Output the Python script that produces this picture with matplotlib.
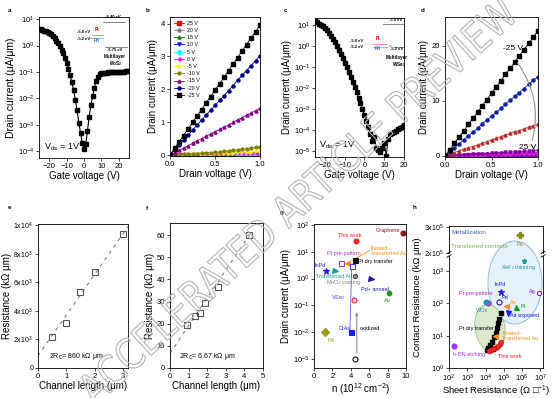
import matplotlib
matplotlib.use("Agg")
import matplotlib.pyplot as plt
from matplotlib.patches import Ellipse, PathPatch
from matplotlib.lines import Line2D
from matplotlib.textpath import TextPath
from matplotlib.font_manager import FontProperties
from matplotlib.transforms import Affine2D
from matplotlib.ticker import FixedLocator, NullLocator

plt.rcParams['font.family'] = ['Liberation Sans', 'DejaVu Sans']
plt.rcParams['mathtext.default'] = 'regular'

# ---------- data ----------
# a: MoS2 transfer curve (Vds = 1 V)
a_vg = [-25, -24, -23, -22, -21, -20, -19, -18, -17, -16, -15, -14, -13, -12, -11, -10, -9, -8, -7, -6,
        -5, -4, -3, -2, -1, 0, 1, 2, 3, 4, 5, 6, 7, 8, 9, 10, 11, 12, 13, 14,
        15, 16, 17, 18, 19, 20, 21, 22, 23, 24, 25]
a_id = [4.2, 3.9, 3.6, 3.4, 3.2, 3.0, 2.7, 2.3, 1.9, 1.5, 1.2, 0.95, 0.7, 0.5, 0.35, 0.22, 0.13, 0.075, 0.04, 0.02,
        0.0085, 0.0035, 0.0012, 0.0005, 0.0002, 0.00012, 0.00018, 0.0006, 0.002, 0.0055, 0.012, 0.025, 0.045, 0.065, 0.08, 0.088, 0.092, 0.094, 0.095, 0.096,
        0.097, 0.098, 0.098, 0.099, 0.1, 0.1, 0.101, 0.102, 0.103, 0.104, 0.105]

# b: MoS2 output curves
b_vd = [0.00, 0.05, 0.10, 0.15, 0.20, 0.25, 0.30, 0.35, 0.40, 0.45, 0.50,
        0.55, 0.60, 0.65, 0.70, 0.75, 0.80, 0.85, 0.90, 0.95, 1.00]
b_p25 = [0.000, 0.000, 0.001, 0.001, 0.001, 0.001, 0.002, 0.002, 0.002, 0.002, 0.003, 0.003, 0.003, 0.003, 0.004, 0.004, 0.004, 0.004, 0.005, 0.005, 0.005]
b_p20 = [0.000, 0.001, 0.001, 0.002, 0.002, 0.003, 0.003, 0.004, 0.004, 0.005, 0.005, 0.006, 0.006, 0.007, 0.007, 0.008, 0.008, 0.009, 0.009, 0.010, 0.010]
b_p15 = [0.000, 0.001, 0.002, 0.003, 0.004, 0.005, 0.006, 0.007, 0.008, 0.009, 0.010, 0.011, 0.012, 0.013, 0.014, 0.015, 0.016, 0.017, 0.018, 0.019, 0.020]
b_p10 = [0.000, 0.002, 0.003, 0.005, 0.006, 0.008, 0.009, 0.011, 0.012, 0.014, 0.015, 0.017, 0.018, 0.020, 0.021, 0.023, 0.024, 0.026, 0.027, 0.029, 0.030]
b_p5 = [0.000, 0.002, 0.004, 0.006, 0.008, 0.010, 0.012, 0.014, 0.016, 0.018, 0.020, 0.022, 0.024, 0.026, 0.028, 0.030, 0.032, 0.034, 0.036, 0.038, 0.040]
b_0 = [0.000, 0.003, 0.006, 0.009, 0.012, 0.015, 0.018, 0.021, 0.024, 0.027, 0.030, 0.034, 0.038, 0.042, 0.046, 0.050, 0.054, 0.058, 0.062, 0.066, 0.070]
b_m5 = [0.000, 0.005, 0.010, 0.015, 0.020, 0.025, 0.030, 0.035, 0.040, 0.045, 0.050, 0.056, 0.062, 0.068, 0.075, 0.082, 0.089, 0.096, 0.104, 0.112, 0.120]
b_m10 = [0.000, 0.006, 0.012, 0.019, 0.026, 0.034, 0.043, 0.052, 0.062, 0.073, 0.085, 0.097, 0.110, 0.124, 0.139, 0.155, 0.172, 0.190, 0.209, 0.229, 0.250]
b_m15 = [0.00, 0.07, 0.14, 0.21, 0.28, 0.36, 0.43, 0.50, 0.57, 0.64, 0.71, 0.78, 0.85, 0.92, 0.99, 1.07, 1.14, 1.21, 1.28, 1.35, 1.42]
b_m20 = [0.00, 0.15, 0.30, 0.45, 0.60, 0.76, 0.91, 1.06, 1.21, 1.36, 1.51, 1.66, 1.81, 1.96, 2.11, 2.27, 2.42, 2.57, 2.72, 2.87, 3.02]
b_m25 = [0.00, 0.20, 0.40, 0.59, 0.79, 0.99, 1.19, 1.38, 1.58, 1.78, 1.98, 2.17, 2.37, 2.57, 2.77, 2.96, 3.16, 3.36, 3.56, 3.75, 3.95]
b_labels = ['25 V', '20 V', '15 V', '10 V', '5 V', '0 V', '-5 V', '-10 V', '-15 V', '-20 V', '-25 V']

# c: WSe2 transfer curve
c_vg = [-25, -24, -23, -22, -21, -20, -19, -18, -17, -16, -15, -14, -13, -12, -11, -10, -9, -8, -7, -6,
        -5, -4, -3, -2, -1, 0, 1, 2, 3, 4, 5, 6, 7, 8, 9, 10, 11, 12, 13, 14,
        15, 16, 17, 18, 19, 20]
c_id = [15, 13, 11.5, 10, 8.5, 7, 5.5, 4.2, 3.1, 2.2, 1.5, 1.0, 0.65, 0.42, 0.26, 0.16, 0.1, 0.06, 0.035, 0.02,
        0.011, 0.0065, 0.0035, 0.0019, 0.001, 5.5e-4, 2.8e-4, 1.5e-4, 7e-5, 3e-5, 5e-5, 1.5e-5, 1.1e-5, 9e-6, 1.5e-5, 2.5e-5, 6e-6, 4e-5, 7e-5, 7.5e-5,
        8e-5, 9e-5, 1.1e-4, 1.3e-4, 1.5e-4, 1.8e-4]

# d: WSe2 output curves
d_vd = b_vd
d_m25 = [0.0, 1.1, 2.3, 3.4, 4.5, 5.7, 6.8, 7.9, 9.1, 10.2, 11.4, 12.5, 13.6, 14.8, 15.9, 17.0, 18.2, 19.3, 20.4, 21.6, 22.7]
d_m20 = [0.0, 0.7, 1.4, 2.2, 2.9, 3.6, 4.3, 5.0, 5.8, 6.5, 7.2, 7.9, 8.6, 9.4, 10.1, 10.8, 11.5, 12.2, 13.0, 13.7, 14.4]
d_m15 = [0.0, 0.3, 0.6, 0.9, 1.2, 1.5, 1.7, 2.0, 2.3, 2.6, 2.9, 3.2, 3.5, 3.8, 4.1, 4.4, 4.6, 4.9, 5.2, 5.5, 5.8]
d_m10 = [0.00, 0.05, 0.10, 0.14, 0.19, 0.24, 0.29, 0.33, 0.38, 0.43, 0.48, 0.52, 0.57, 0.62, 0.67, 0.71, 0.76, 0.81, 0.86, 0.90, 0.95]
d_m5 = [0.00, 0.03, 0.06, 0.09, 0.12, 0.15, 0.18, 0.21, 0.24, 0.27, 0.30, 0.33, 0.36, 0.39, 0.42, 0.45, 0.48, 0.51, 0.54, 0.57, 0.60]
d_0 = [0.00, 0.02, 0.03, 0.05, 0.06, 0.08, 0.09, 0.11, 0.12, 0.14, 0.15, 0.17, 0.18, 0.20, 0.21, 0.23, 0.24, 0.26, 0.27, 0.29, 0.30]
d_p5 = [0.00, 0.01, 0.02, 0.02, 0.03, 0.04, 0.05, 0.05, 0.06, 0.07, 0.08, 0.08, 0.09, 0.10, 0.11, 0.11, 0.12, 0.13, 0.14, 0.14, 0.15]

# e, f: TLM
e_len = [0.5, 1.0, 1.5, 2.0, 3.0]
e_res = [2200, 3150, 5350, 6700, 9400]
e_fit_x = [0.0, 3.2]
e_fit_y = [860, 9980]
f_len = [0.9, 1.35, 1.6, 1.9, 2.6, 4.25]
f_res = [19.5, 23.5, 25.0, 29.5, 36.5, 60.0]
f_fit_x = [0.0, 4.4]
f_fit_y = [6.67, 61.7]

# g: benchmark drain current vs carrier density
g_names = ['Graphene', 'This work', 'Pt pre-pattern', 'Treated', 'Pt dry', 'InPd', 'Transferred Au', 'VSe2',
           'MoO3', 'Pd+anneal', 'Au', 'ox top', 'CrAu', 'Pd', 'ox bottom']
g_n = [9.7, 4.6, 2.9, 3.6, 4.45, 1.35, 2.3, 4.1, 4.45, 6.15, 8.2, 4.35, 4.07, 1.15, 4.45]
g_id = [49, 25, 3.9, 3.9, 4.8, 2.0, 1.9, 2.9, 1.3, 1.0, 0.29, 0.155, 0.0098, 0.0098, 0.001]

# h: benchmark contact resistance vs sheet resistance
h_top_rs = [8e5]
h_top_rc = [2.7e5]
h_names = ['XeF2', 'InPd', 'Ag', 'Pt pre', 'WOx', 'Pd', 'Au', 'Pt', 'Air', 'Treated', 'hBN']
h_rs = [1.3e6, 6.8e4, 8e6, 1.3e4, 1e4, 5.7e4, 1.3e5, 4.8e5, 1.6e5, 3.5e4, 190]
h_rc = [2050, 230, 205, 100, 110, 112, 83, 77, 51, 10, 4.8]
h_dry_rs = [6.8e4, 5.7e4, 5e4, 4.3e4, 3.6e4, 3e4, 2.4e4, 1.75e4, 1.4e4, 1.15e4, 1.75e4, 2.7e4]
h_dry_rc = [49, 34, 24, 17.5, 12.5, 9.2, 6.4, 5.0, 4.3, 3.7, 3.55, 3.8]
h_work_rs = [1.55e4, 2e4, 2.6e4, 3.3e4, 4e4, 5e4, 6e4, 6.8e4]
h_work_rc = [3.3, 3.55, 3.8, 4.2, 4.5, 4.9, 5.4, 6.5]

# ---------- figure ----------
W, H = 554, 398
fig = plt.figure(figsize=(W / 100, H / 100), dpi=100)


def add_ax(l, t, r, b):
    return fig.add_axes([l / W, 1 - b / H, (r - l) / W, (b - t) / H])


def style(ax):
    ax.tick_params(labelsize=5.5, length=2, width=0.5, pad=1.5)
    ax.tick_params(which='minor', length=0)
    for s in ax.spines.values():
        s.set_linewidth(0.6)


def ftxt(px, py, s, **kw):
    fig.text(px / W, 1 - py / H, s, **kw)


def fline(x0, x1, y, color):
    fig.add_artist(Line2D([x0 / W, x1 / W], [1 - y / H, 1 - y / H], color=color, lw=0.5))


for lab, px, py in [('a', 8, 12), ('b', 146, 12), ('c', 284, 12), ('d', 421, 12),
                    ('e', 8, 209), ('f', 146, 210), ('g', 280, 214), ('h', 413, 209)]:
    ftxt(px, py, lab, fontsize=4.5, fontweight='bold')

# a
ax = add_ax(39, 17, 129, 158)
ax.semilogy(a_vg, a_id, '-s', color='black', ms=2.6, lw=0.8)
ax.set_xlim(-26, 26)
ax.set_ylim(5.5e-5, 12)
ax.xaxis.set_major_locator(FixedLocator([-20, -10, 0, 10, 20]))
ax.yaxis.set_minor_locator(NullLocator())
ax.set_xlabel('Gate voltage (V)', fontsize=7, labelpad=1)
ax.set_ylabel('Drain current (μA/μm)', fontsize=7.5, labelpad=1)
ax.text(0.05, 0.06, 'V$_{ds}$ = 1V', transform=ax.transAxes, fontsize=6.5)
style(ax)
ftxt(113, 18, '-4.40 eV', fontsize=3, ha='center', fontweight='bold')
fline(103, 125, 21.5, '#555555')
ftxt(84, 33, '-5.0 eV', fontsize=3, ha='center', fontweight='bold')
ftxt(97, 31, 'Pt', fontsize=3.3, ha='center', color='red', fontweight='bold')
fline(92, 103, 35, '#ff6060')
ftxt(84, 40, '-5.2 eV', fontsize=3, ha='center', fontweight='bold')
ftxt(97, 42, 'Pd', fontsize=3.3, ha='center', color='#4070d0', fontweight='bold')
fline(90, 103, 37.5, '#8090c0')
fline(105, 127, 47, '#555555')
ftxt(115, 51, '-5.75 eV', fontsize=3, ha='center', fontweight='bold')
ftxt(115, 58, 'Multilayer', fontsize=3.3, ha='center', fontweight='bold')
ftxt(116, 65, 'MoS$_2$', fontsize=3.3, ha='center', fontweight='bold')

# b
ax = add_ax(170, 17, 260, 156)
b_series = [(b_p25, 'red', 's'), (b_p20, 'grey', 'o'), (b_p15, 'green', '^'), (b_p10, 'blue', 'v'),
            (b_p5, 'cyan', 'D'), (b_0, 'magenta', '<'), (b_m5, 'yellow', '>'), (b_m10, 'olive', 'h'),
            (b_m15, 'purple', '^'), (b_m20, 'navy', 'o'), (b_m25, 'black', 's')]
for (vals, col, mk), lab in zip(b_series, b_labels):
    ax.plot(b_vd, vals, '-', marker=mk, color=col, ms=2.2, lw=0.6, label=lab)
ax.set_xlim(0, 1)
ax.set_ylim(-0.03, 4.2)
ax.xaxis.set_major_locator(FixedLocator([0, 0.5, 1.0]))
ax.yaxis.set_major_locator(FixedLocator([0, 1, 2, 3, 4]))
ax.set_xlabel('Drain voltage (V)', fontsize=7, labelpad=1)
ax.set_ylabel('Drain current (μA/μm)', fontsize=7, labelpad=2)
ax.legend(loc='upper left', fontsize=3.8, frameon=False, handlelength=1.9, labelspacing=0.42,
          borderaxespad=0.3, handletextpad=0.6)
style(ax)

# c
ax = add_ax(315, 18, 404, 157)
ax.semilogy(c_vg, c_id, '-s', color='black', ms=2.6, lw=0.7)
ax.set_xlim(-25, 20)
ax.set_ylim(5.4e-6, 21)
ax.xaxis.set_major_locator(FixedLocator([-20, -10, 0, 10, 20]))
ax.yaxis.set_minor_locator(NullLocator())
ax.set_xlabel('Gate voltage (V)', fontsize=7, labelpad=1)
ax.set_ylabel('Drain current (μA/μm)', fontsize=7, labelpad=1)
ax.text(0.05, 0.07, 'V$_{ds}$ = 1V', transform=ax.transAxes, fontsize=6.5)
style(ax)
ftxt(396, 21, '-3.9 eV', fontsize=3, ha='center', fontweight='bold')
fline(383, 403, 24, '#555555')
ftxt(357, 42, '-5.0 eV', fontsize=3, ha='center', fontweight='bold')
ftxt(378, 40, 'Pt', fontsize=3.3, ha='center', color='red', fontweight='bold')
fline(373, 387, 44, '#ff6060')
ftxt(357, 48, '-5.2 eV', fontsize=3, ha='center', fontweight='bold')
ftxt(378, 50, 'Pd', fontsize=3.3, ha='center', color='#4070d0', fontweight='bold')
fline(373, 387, 46.5, '#8090c0')
ftxt(390.5, 46.5, '×', fontsize=3.5, ha='center', va='center', color='#4070d0')
fline(394, 403, 46.5, '#555555')
ftxt(397, 50.5, '-5.2 eV', fontsize=3, ha='center', fontweight='bold')
ftxt(397, 59, 'Multilayer', fontsize=3.3, ha='center', fontweight='bold')
ftxt(399, 66, 'WSe$_2$', fontsize=3.3, ha='center', fontweight='bold')

# d
ax = add_ax(445, 17, 538, 157)
d_series = [(d_p5, '#9a30ff', 'o'), (d_0, '#8000c0', 's'), (d_m5, '#d020d0', 'D'), (d_m10, '#8000a0', 'v'),
            (d_m15, '#b03030', '^'), (d_m20, '#1020a0', 'o'), (d_m25, 'black', 's')]
for vals, col, mk in d_series:
    ax.plot(d_vd, vals, '-', marker=mk, color=col, ms=2.2, lw=0.6)
ax.annotate('', xy=(0.93, 2.3), xytext=(0.76, 17.3),
            arrowprops=dict(arrowstyle='-', color='#909090', lw=0.8, connectionstyle='arc3,rad=-0.25'))
ax.text(0.62, 19.3, '-25 V', fontsize=6)
ax.text(0.8, 1.3, '25 V', fontsize=6)
ax.set_xlim(0, 1)
ax.set_ylim(-0.2, 25.2)
ax.xaxis.set_major_locator(FixedLocator([0, 0.5, 1.0]))
ax.yaxis.set_major_locator(FixedLocator([0, 10, 20]))
ax.set_xlabel('Drain voltage (V)', fontsize=7, labelpad=1)
ax.set_ylabel('Drain current (μA/μm)', fontsize=7, labelpad=2)
style(ax)

# e
ax = add_ax(38, 224, 128, 368)
ax.plot(e_fit_x, e_fit_y, '--', color='#808080', lw=0.8, dashes=(3, 4))
ax.plot(e_len, e_res, 's', mfc='none', mec='#555555', ms=4.5, mew=0.8)
ax.set_xlim(0, 3.18)
ax.set_ylim(0, 10100)
ax.xaxis.set_major_locator(FixedLocator([0, 1, 2, 3]))
ax.yaxis.set_major_locator(FixedLocator([0, 2000, 4000, 6000, 8000, 10000]))
ax.set_yticklabels(['0', '2x10$^3$', '4x10$^3$', '6x10$^3$', '8x10$^3$', '1x10$^4$'])
ax.text(0.4, 700, '2R$_C$= 860 kΩ μm', fontsize=5)
ax.set_xlabel('Channel length (μm)', fontsize=7, labelpad=1)
ax.set_ylabel('Resistance (kΩ μm)', fontsize=7, labelpad=1)
style(ax)
ax.tick_params(axis='y', labelsize=5)

# f
ax = add_ax(170, 223, 263, 368)
ax.plot(f_fit_x, f_fit_y, '--', color='#808080', lw=0.8, dashes=(3, 4))
ax.plot(f_len, f_res, 's', mfc='none', mec='#555555', ms=4.5, mew=0.8)
ax.set_xlim(0, 5)
ax.set_ylim(0, 65.5)
ax.xaxis.set_major_locator(FixedLocator([0, 1, 2, 3, 4, 5]))
ax.yaxis.set_major_locator(FixedLocator([0, 10, 20, 30, 40, 50, 60]))
ax.text(0.5, 4.5, '2R$_C$= 6.67 kΩ μm', fontsize=5)
ax.set_xlabel('Channel length (μm)', fontsize=7, labelpad=1)
ax.set_ylabel('Resistance (kΩ μm)', fontsize=7, labelpad=1)
style(ax)

# g
ax = add_ax(314, 224, 406, 368)
g_style = [('o', '#8b1a1a', '#8b1a1a'), ('o', '#ff2020', '#ff2020'), ('s', 'white', '#a040a0'),
           ('<', '#ff8c1a', '#ff8c1a'), ('s', 'black', 'black'), ('*', '#2020ff', '#2020ff'),
           ('>', '#1a9a9a', '#1a9a9a'), ('s', 'white', '#4040ff'), ('8', '#909090', '#505050'),
           ('>', '#1a1aa0', '#1a1aa0'), ('h', '#1a9a1a', '#1a9a1a'), ('o', '#ffd0d0', '#ff3030'),
           ('s', '#1a1aff', '#1a1aff'), ('D', '#9a9a1a', '#9a9a1a'), ('o', '#ffffff', '#111111')]
ax.plot([g_n[7], 3.9], [g_id[7], 0.012], color='#6060ff', lw=0.6)
ax.plot([3.9, 6.0], [4.3, 11], color='#ff8c1a', lw=0.6)
ax.annotate('', xy=(4.65, 0.07), xytext=(4.65, 0.0013),
            arrowprops=dict(arrowstyle='-|>', color='#909090', lw=0.8, mutation_scale=4))
for x, y, (mk, fc, ec) in zip(g_n, g_id, g_style):
    ax.plot(x, y, marker=mk, mfc=fc, mec=ec, ms=3.6 if mk != '*' else 4.5, mew=0.8, ls='none')
gt = dict(fontsize=4)
ax.text(8.0, 62, 'Graphene', color='#8b1a1a', ha='center', va='center', **gt)
ax.text(3.9, 42, 'This work', color='#ff2020', ha='center', va='center', **gt)
ax.text(3.2, 9, 'Pt pre-pattern', color='#a040a0', ha='center', va='center', **gt)
ax.text(6.1, 11, 'Treated\n-transferred Au', color='#ff8c1a', ha='left', va='center', linespacing=0.9, **gt)
ax.text(4.75, 4.5, 'Pt dry transfer', color='black', ha='left', va='center', **gt)
ax.text(0.7, 3.2, 'InPd', color='#2020ff', ha='center', va='center', **gt)
ax.text(2.2, 1.2, 'Transferred Au', color='#1a9a9a', ha='center', va='center', **gt)
ax.text(3.25, 0.7, 'MoO$_3$ coating', color='#808080', ha='center', va='center', **gt)
ax.text(6.6, 0.39, 'Pd+ anneal', color='#1a1aa0', ha='center', va='center', **gt)
ax.text(8.0, 0.155, 'Au', color='#1a9a1a', ha='center', va='center', **gt)
ax.text(2.6, 0.2, 'VSe$_2$', color='#4040ff', ha='center', va='center', **gt)
ax.text(3.35, 0.014, 'CrAu', color='#2020ff', ha='center', va='center', **gt)
ax.text(6.1, 0.014, 'oxidized', color='black', ha='center', va='center', **gt)
ax.text(1.8, 0.0048, 'Pd', color='#9a9a1a', ha='center', va='center', **gt)
ax.set_yscale('log')
ax.set_xlim(0, 10)
ax.set_ylim(4.5e-4, 1.1e2)
ax.xaxis.set_major_locator(FixedLocator([0, 2, 4, 6, 8, 10]))
ax.yaxis.set_minor_locator(NullLocator())
ax.set_xlabel('n (10$^{12}$ cm$^{-2}$)', fontsize=7, labelpad=1)
ax.set_ylabel('Drain current (μA/μm)', fontsize=7, labelpad=1)
style(ax)

# h (broken y axis)
axl = add_ax(449, 256, 543, 368)
axu = add_ax(449, 226, 543, 253)
axu.set_facecolor('none')
blue_el = Ellipse((515 / W, 1 - 282.5 / H), 54 / W, 83 / H, transform=fig.transFigure,
                  fc='#e6f1fa', ec='#8fc0e0', lw=0.7, clip_on=False, zorder=0)
green_el = Ellipse((490 / W, 1 - 328 / H), 30 / W, 47 / H, angle=5, transform=fig.transFigure,
                   fc='#dcebcf', ec='#a8cc90', lw=0.7, clip_on=False, zorder=0.5)
axl.add_patch(blue_el)
axl.add_patch(green_el)

h_style = [('p', '#1a9a9a', '#1a9a9a'), ('*', '#2020ff', '#2020ff'), ('8', 'white', '#8020ff'),
           ('o', '#d040d0', '#a030a0'), ('o', '#2090c0', '#2090c0'), ('o', 'white', '#1a1aa0'),
           ('<', '#ff8c1a', '#ff8c1a'), ('^', '#1a9a1a', '#1a9a1a'), ('v', '#1a1aff', '#1a1aff'),
           ('<', '#ff8c1a', '#ff8c1a'), ('o', '#a030ff', '#a030ff')]
axl.plot(h_dry_rs, h_dry_rc, 's', color='black', ms=3, zorder=3)
axl.plot(h_work_rs, h_work_rc, 'o', mfc='#ff3030', mec='#cc0000', ms=3.5, mew=0.4, zorder=4)
for x, y, (mk, fc, ec) in zip(h_rs, h_rc, h_style):
    axl.plot(x, y, marker=mk, mfc=fc, mec=ec, ms=3.6 if mk != '*' else 4.5, mew=0.8, ls='none', zorder=5)
ht = dict(fontsize=4, va='center')
axl.text(6.3e5, 1300, 'XeF$_2$ thinning', color='#1a9a9a', ha='center', **ht)
axl.text(6.5e4, 380, 'InPd', color='#2020ff', ha='center', **ht)
axl.text(5.5e6, 235, 'Ag', color='#8020ff', ha='right', **ht)
axl.text(3e3, 210, 'Pt pre-pattern', color='#a030a0', ha='center', **ht)
axl.text(6.3e3, 62, 'WOx', color='#2090c0', ha='center', **ht)
axl.text(1.2e5, 150, 'Pd', color='#1a1aa0', ha='center', **ht)
axl.text(3.2e5, 107, 'Au', color='#ff8c1a', ha='center', **ht)
axl.text(1.1e6, 80, 'Pt', color='#1a9a1a', ha='center', **ht)
axl.text(2.2e5, 41, 'Air exposed', color='#1a1aff', ha='left', **ht)
axl.text(3.5e2, 17, 'Pt dry transfer', color='black', ha='left', **ht)
axl.text(8e4, 10, 'Treated-\nTransferred Au', color='#ff8c1a', ha='left', linespacing=0.9, **ht)
axl.text(5e4, 2.2, 'This work', color='#ff2020', ha='left', **ht)
axl.text(1.6e2, 2.6, 'h-BN etching', color='#a030ff', ha='left', **ht)
axl.set_xscale('log')
axl.set_yscale('log')
axl.set_xlim(1e2, 1.4e7)
axl.set_ylim(1, 10 ** 3.47)
axl.xaxis.set_major_locator(FixedLocator([1e2, 1e3, 1e4, 1e5, 1e6, 1e7]))
axl.xaxis.set_minor_locator(NullLocator())
axl.yaxis.set_major_locator(FixedLocator([1, 10, 100, 1000]))
axl.yaxis.set_minor_locator(NullLocator())
axl.spines['top'].set_visible(False)
axl.set_xlabel('Sheet Resistance (Ω □$^{-1}$)', fontsize=6.8, labelpad=0)
style(axl)

axu.plot(h_top_rs, h_top_rc, 'P', color='#8a8a20', ms=4.5)
axu.text(h_top_rs[0], 2.35e5, 'Pd', color='#8a8a20', ha='center', fontsize=4, va='center')
axu.text(1.3e2, 2.8e5, 'Metallization', color='#4060c0', fontsize=4.5, va='center')
axu.text(1.3e2, 2.25e5, 'Transferred contacts', color='#80b050', fontsize=4.5, va='center')
axu.set_xscale('log')
axu.set_xlim(1e2, 1.4e7)
axu.set_ylim(2e5, 3.05e5)
axu.xaxis.set_major_locator(NullLocator())
axu.xaxis.set_minor_locator(NullLocator())
axu.yaxis.set_major_locator(FixedLocator([2e5, 3e5]))
axu.set_yticklabels(['2x10$^5$', '3x10$^5$'])
axu.spines['bottom'].set_visible(False)
style(axu)
axu.tick_params(axis='y', labelsize=5)
for xs in (449, 543):
    for yb in (252.5, 256):
        fig.add_artist(Line2D([(xs - 2) / W, (xs + 2) / W], [1 - (yb + 1.2) / H, 1 - (yb - 1.2) / H],
                              color='black', lw=0.6))
ftxt(417, 297, 'Contact Resistance (kΩ μm)', fontsize=6.8, rotation=90, ha='center', va='center')

# watermark
fp = FontProperties(family='DejaVu Sans')
wm = TextPath((0, 0), 'ACCELERATED ARTICLE PREVIEW', size=10, prop=fp)
bb = wm.get_extents()
wm_tr = (Affine2D().translate(-bb.x0, -bb.y0 - bb.height / 2)
         .scale(575 / bb.width, 32 / bb.height).rotate_deg(42.5).translate(85, 3))
fig.add_artist(PathPatch(wm, transform=wm_tr, fc='none', ec='#b5b5b5', lw=0.8, zorder=20))

fig.savefig('out.png', dpi=100)
